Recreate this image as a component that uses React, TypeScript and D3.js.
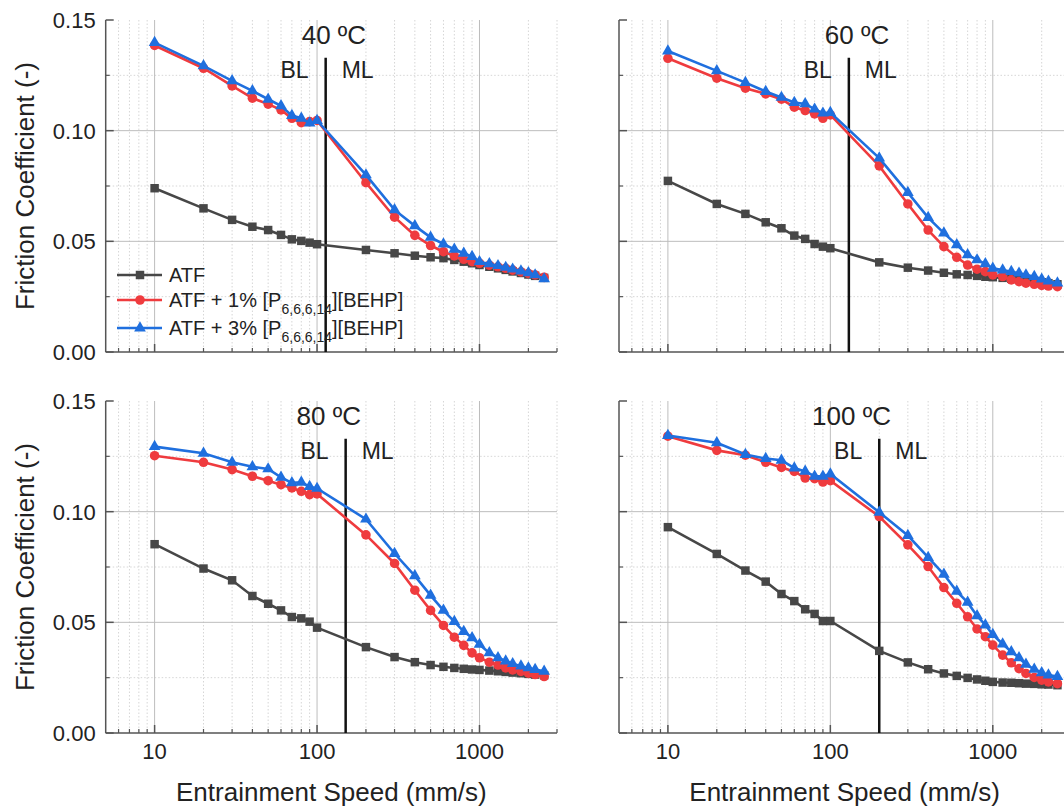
import React, { useEffect, useRef } from "react";
import * as d3 from "d3";

// entrainment speeds (mm/s)
const speeds = [10, 20, 30, 40, 50, 60, 70, 80, 90, 100, 200, 300, 400, 500, 600, 700, 800, 900, 1000, 1150, 1300, 1450, 1600, 1800, 2000, 2200, 2500];

// 40 ºC
const atf40 = [0.0740, 0.0649, 0.0597, 0.0566, 0.0551, 0.0529, 0.0509, 0.0502, 0.0494, 0.0487, 0.0461, 0.0446, 0.0435, 0.0428, 0.0424, 0.0416, 0.0408, 0.0401, 0.0393, 0.0385, 0.0378, 0.0371, 0.0364, 0.0357, 0.0350, 0.0344, 0.0335];
const p1_40 = [0.1385, 0.1282, 0.1202, 0.1147, 0.1120, 0.1094, 0.1056, 0.1036, 0.1041, 0.1046, 0.0765, 0.0609, 0.0527, 0.0481, 0.0453, 0.0434, 0.0419, 0.0408, 0.0401, 0.0392, 0.0385, 0.0378, 0.0370, 0.0362, 0.0355, 0.0348, 0.0337];
const p3_40 = [0.1398, 0.1293, 0.1225, 0.1180, 0.1142, 0.1112, 0.1068, 0.1056, 0.1034, 0.1046, 0.0800, 0.0642, 0.0570, 0.0518, 0.0488, 0.0464, 0.0446, 0.0431, 0.0408, 0.0398, 0.0390, 0.0382, 0.0374, 0.0366, 0.0358, 0.0348, 0.0330];

// 60 ºC
const atf60 = [0.0773, 0.0669, 0.0624, 0.0586, 0.0559, 0.0526, 0.0511, 0.0488, 0.0476, 0.0469, 0.0405, 0.0381, 0.0368, 0.0358, 0.0351, 0.0348, 0.0344, 0.0340, 0.0338, 0.0335, 0.0331, 0.0327, 0.0323, 0.0319, 0.0315, 0.0311, 0.0306];
const p1_60 = [0.1327, 0.1237, 0.1192, 0.1166, 0.1142, 0.1106, 0.1091, 0.1076, 0.1056, 0.1071, 0.0841, 0.0669, 0.0551, 0.0476, 0.0428, 0.0393, 0.0374, 0.0363, 0.0348, 0.0341, 0.0326, 0.0318, 0.0311, 0.0306, 0.0301, 0.0298, 0.0295];
const p3_60 = [0.1360, 0.1270, 0.1217, 0.1177, 0.1150, 0.1127, 0.1121, 0.1097, 0.1079, 0.1082, 0.0876, 0.0720, 0.0607, 0.0537, 0.0484, 0.0439, 0.0416, 0.0398, 0.0378, 0.0370, 0.0363, 0.0356, 0.0348, 0.0341, 0.0329, 0.0320, 0.0311];

// 80 ºC
const atf80 = [0.0853, 0.0743, 0.0690, 0.0619, 0.0584, 0.0554, 0.0524, 0.0518, 0.0503, 0.0476, 0.0388, 0.0343, 0.0320, 0.0307, 0.0299, 0.0294, 0.0290, 0.0287, 0.0285, 0.0282, 0.0279, 0.0276, 0.0273, 0.0270, 0.0267, 0.0264, 0.0261];
const p1_80 = [0.1253, 0.1223, 0.1190, 0.1160, 0.1140, 0.1122, 0.1107, 0.1092, 0.1077, 0.1080, 0.0895, 0.0766, 0.0645, 0.0554, 0.0486, 0.0433, 0.0396, 0.0362, 0.0340, 0.0320, 0.0307, 0.0294, 0.0285, 0.0278, 0.0270, 0.0264, 0.0255];
const p3_80 = [0.1294, 0.1264, 0.1223, 0.1203, 0.1193, 0.1155, 0.1130, 0.1133, 0.1113, 0.1105, 0.0966, 0.0811, 0.0710, 0.0622, 0.0554, 0.0503, 0.0458, 0.0430, 0.0400, 0.0362, 0.0340, 0.0325, 0.0313, 0.0302, 0.0294, 0.0287, 0.0279];

// 100 ºC
const atf100 = [0.0930, 0.0809, 0.0734, 0.0684, 0.0628, 0.0596, 0.0559, 0.0538, 0.0506, 0.0506, 0.0371, 0.0319, 0.0288, 0.0269, 0.0258, 0.0249, 0.0242, 0.0236, 0.0231, 0.0228, 0.0227, 0.0225, 0.0223, 0.0222, 0.0220, 0.0219, 0.0216];
const p1_100 = [0.1341, 0.1277, 0.1255, 0.1223, 0.1200, 0.1182, 0.1152, 0.1149, 0.1134, 0.1140, 0.0978, 0.0850, 0.0752, 0.0657, 0.0586, 0.0525, 0.0470, 0.0435, 0.0397, 0.0352, 0.0317, 0.0291, 0.0269, 0.0251, 0.0239, 0.0231, 0.0223];
const p3_100 = [0.1344, 0.1311, 0.1258, 0.1240, 0.1232, 0.1197, 0.1182, 0.1160, 0.1160, 0.1170, 0.0997, 0.0892, 0.0793, 0.0717, 0.0640, 0.0590, 0.0529, 0.0488, 0.0445, 0.0402, 0.0367, 0.0340, 0.0310, 0.0288, 0.0272, 0.0262, 0.0255];

const panelTitles = ["40 ºC", "60 ºC", "80 ºC", "100 ºC"];
const transitionSpeed = [113, 130, 150, 200]; // BL | ML boundary
const titleSpeed = [127, 146, 118, 135];
const atfData = [atf40, atf60, atf80, atf100];
const p1Data = [p1_40, p1_60, p1_80, p1_100];
const p3Data = [p3_40, p3_60, p3_80, p3_100];

const xTickLabels = [10, 100, 1000];
const yTickLabels = [0, 0.05, 0.1, 0.15];
const yMinor = [0.025, 0.075, 0.125];

const W = 1064, H = 809;
const FONT = "'Liberation Sans', Arial, sans-serif";
const C_ATF = "#474747", C_P1 = "#ef3b3e", C_P3 = "#1f6fde";

function App() {
  const ref = useRef<SVGSVGElement>(null);

  useEffect(() => {
    const svg = d3.select(ref.current);
    svg.selectAll("*").remove();

    const cols = [105.7, 619];
    const rows = [20, 401];
    const pw = 451.3, ph = 332;

    const minorX: number[] = [];
    [1, 10, 100, 1000].forEach(d => {
      for (let k = 2; k <= 9; k++) {
        const v = k * d;
        if (v > 5 && v <= 3000 && !xTickLabels.includes(v)) minorX.push(v);
      }
    });

    panelTitles.forEach((title, i) => {
      const col = i % 2, row = Math.floor(i / 2);
      const left = cols[col], top = rows[row];
      const x = d3.scaleLog().domain([5, 3000]).range([left, left + pw]);
      const y = d3.scaleLinear().domain([0, 0.15]).range([top + ph, top]);
      const g = svg.append("g");
      const bottom = y(0);

      // grid
      g.selectAll(".gxm").data(minorX).enter().append("line")
        .attr("x1", d => x(d)).attr("x2", d => x(d)).attr("y1", top).attr("y2", bottom)
        .attr("stroke", "#d6d6d6").attr("stroke-width", 1).attr("stroke-dasharray", "1.5,2");
      g.selectAll(".gym").data(yMinor).enter().append("line")
        .attr("x1", left).attr("x2", left + pw).attr("y1", d => y(d)).attr("y2", d => y(d))
        .attr("stroke", "#d6d6d6").attr("stroke-width", 1).attr("stroke-dasharray", "1.5,2");
      g.selectAll(".gxM").data(xTickLabels).enter().append("line")
        .attr("x1", d => x(d)).attr("x2", d => x(d)).attr("y1", top).attr("y2", bottom)
        .attr("stroke", "#bdbdbd").attr("stroke-width", 1);
      g.selectAll(".gyM").data([0.05, 0.1]).enter().append("line")
        .attr("x1", left).attr("x2", left + pw).attr("y1", d => y(d)).attr("y2", d => y(d))
        .attr("stroke", "#bdbdbd").attr("stroke-width", 1);

      // axes
      g.append("line").attr("x1", left).attr("x2", left).attr("y1", top).attr("y2", bottom)
        .attr("stroke", "#555").attr("stroke-width", 1.5);
      g.append("line").attr("x1", left).attr("x2", left + pw).attr("y1", bottom).attr("y2", bottom)
        .attr("stroke", "#555").attr("stroke-width", 1.5);
      g.selectAll(".txm").data(minorX).enter().append("line")
        .attr("x1", d => x(d)).attr("x2", d => x(d)).attr("y1", bottom).attr("y2", bottom - 4)
        .attr("stroke", "#555").attr("stroke-width", 1.2);
      g.selectAll(".txM").data(xTickLabels).enter().append("line")
        .attr("x1", d => x(d)).attr("x2", d => x(d)).attr("y1", bottom).attr("y2", bottom - 8)
        .attr("stroke", "#555").attr("stroke-width", 1.5);
      g.selectAll(".tym").data(yMinor).enter().append("line")
        .attr("x1", left).attr("x2", left + 4).attr("y1", d => y(d)).attr("y2", d => y(d))
        .attr("stroke", "#555").attr("stroke-width", 1.2);
      g.selectAll(".tyM").data(yTickLabels).enter().append("line")
        .attr("x1", left).attr("x2", left + 8).attr("y1", d => y(d)).attr("y2", d => y(d))
        .attr("stroke", "#555").attr("stroke-width", 1.5);

      if (col === 0) {
        g.selectAll(".yl").data(yTickLabels).enter().append("text")
          .attr("x", left - 10).attr("y", d => y(d) + 8)
          .attr("text-anchor", "end").attr("font-family", FONT).attr("font-size", 22).attr("fill", "#222")
          .text(d => d.toFixed(2));
        g.append("text")
          .attr("transform", `translate(34,${top + ph / 2}) rotate(-90)`)
          .attr("text-anchor", "middle").attr("font-family", FONT).attr("font-size", 26).attr("fill", "#222")
          .text("Friction Coefficient (-)");
      }
      if (row === 1) {
        g.selectAll(".xl").data(xTickLabels).enter().append("text")
          .attr("x", d => x(d)).attr("y", bottom + 26)
          .attr("text-anchor", "middle").attr("font-family", FONT).attr("font-size", 22).attr("fill", "#222")
          .text(d => String(d));
        g.append("text")
          .attr("x", left + pw / 2).attr("y", bottom + 68)
          .attr("text-anchor", "middle").attr("font-family", FONT).attr("font-size", 26).attr("fill", "#222")
          .text("Entrainment Speed (mm/s)");
      }

      // BL / ML annotation
      const lx = x(transitionSpeed[i]);
      g.append("line").attr("x1", lx).attr("x2", lx).attr("y1", y(0.133)).attr("y2", bottom)
        .attr("stroke", "#111").attr("stroke-width", 2.5);
      g.append("text").attr("x", lx - 17).attr("y", top + 58).attr("text-anchor", "end")
        .attr("font-family", FONT).attr("font-size", 23).attr("fill", "#222").text("BL");
      g.append("text").attr("x", lx + 16).attr("y", top + 58).attr("text-anchor", "start")
        .attr("font-family", FONT).attr("font-size", 23).attr("fill", "#222").text("ML");
      g.append("text").attr("x", x(titleSpeed[i])).attr("y", top + 24).attr("text-anchor", "middle")
        .attr("font-family", FONT).attr("font-size", 26).attr("fill", "#222").text(title);

      // series
      const series = [
        { vals: atfData[i], color: C_ATF, sym: d3.symbolSquare, size: 72 },
        { vals: p1Data[i], color: C_P1, sym: d3.symbolCircle, size: 72 },
        { vals: p3Data[i], color: C_P3, sym: d3.symbolTriangle, size: 60 },
      ];
      const line = d3.line<number>().x((d, k) => x(speeds[k])).y(d => y(d));
      series.forEach(s => {
        g.append("path").attr("d", line(s.vals)).attr("fill", "none")
          .attr("stroke", s.color).attr("stroke-width", 2.6);
        const sym = d3.symbol().type(s.sym).size(s.size);
        g.selectAll(null).data(s.vals).enter().append("path")
          .attr("d", sym()).attr("transform", (d, k) => `translate(${x(speeds[k])},${y(d)})`)
          .attr("fill", s.color);
      });

      if (i === 0) {
        const items = [
          { color: C_ATF, sym: d3.symbolSquare, size: 72, main: "ATF", sub: "", tail: "" },
          { color: C_P1, sym: d3.symbolCircle, size: 72, main: "ATF + 1% [P", sub: "6,6,6,14", tail: "][BEHP]" },
          { color: C_P3, sym: d3.symbolTriangle, size: 60, main: "ATF + 3% [P", sub: "6,6,6,14", tail: "][BEHP]" },
        ];
        const rowsY = [275, 300, 328];
        items.forEach((it, k) => {
          const ly = rowsY[k];
          g.append("line").attr("x1", 117).attr("x2", 162).attr("y1", ly).attr("y2", ly)
            .attr("stroke", it.color).attr("stroke-width", 2.6);
          g.append("path").attr("d", d3.symbol().type(it.sym).size(it.size)())
            .attr("transform", `translate(140,${ly})`).attr("fill", it.color);
          const t = g.append("text").attr("x", 169).attr("y", ly + 7)
            .attr("font-family", FONT).attr("font-size", 20).attr("fill", "#222");
          t.append("tspan").text(it.main);
          if (it.sub) {
            t.append("tspan").attr("font-size", 14).attr("dy", 7).text(it.sub);
            t.append("tspan").attr("dy", -7).text(it.tail);
          }
        });
      }
    });
  }, []);

  return (
    <svg ref={ref} width={W} height={H}
      style={{ position: "absolute", left: 0, top: 0, background: "#fff" }} />
  );
}

export default App;
